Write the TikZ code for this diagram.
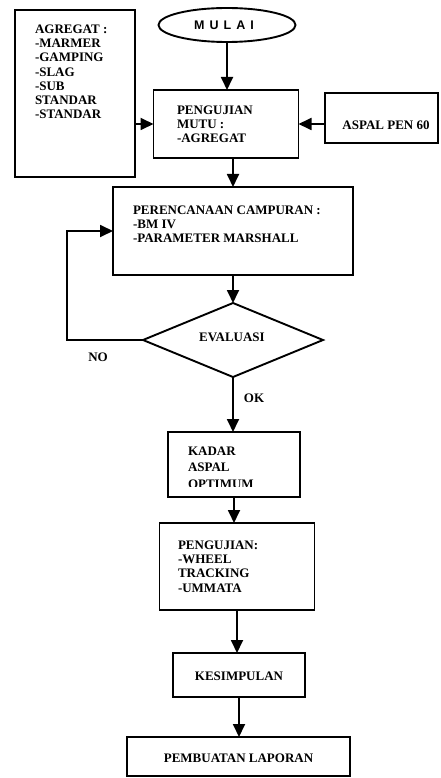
\documentclass[tikz,border=0pt]{standalone}
\usepackage{fontspec}
\setmainfont{Liberation Serif}
\newfontfamily\mulaifont{Liberation Sans}
\usetikzlibrary{shapes.geometric,arrows.meta}
\begin{document}
\begin{tikzpicture}[x=1pt,y=-1pt,
  every node/.style={inner sep=0pt,outer sep=0pt},
  box/.style={draw,line width=1.9pt,rectangle},
  txt/.style={font=\fontsize{13}{14.3}\selectfont\bfseries,align=left,anchor=north west},
  ctxt/.style={font=\fontsize{13}{14.3}\selectfont\bfseries},
  arr/.style={line width=1.8pt,-{Triangle[length=13pt,width=12pt]}}]
\useasboundingbox (0,0) rectangle (441,778);
% boxes
\node[box,minimum width=120pt,minimum height=167pt] (agr) at (75,93.5) {};
\node[draw,line width=1.9pt,ellipse,minimum width=137pt,minimum height=34pt] (mulai) at (227,25) {};
\node[font=\mulaifont\bfseries\fontsize{12.5}{13}\selectfont] (mulaitxt) at (224,25) {M\hspace{5pt}U\hspace{5pt}L\hspace{5pt}A\hspace{5pt}I};
\node[box,minimum width=145pt,minimum height=68pt] (mutu) at (226,124) {};
\node[box,minimum width=113pt,minimum height=50pt] (aspal) at (381.5,118) {};
\node[box,minimum width=240pt,minimum height=88pt] (rencana) at (233,231) {};
\node[draw,line width=1.9pt,diamond,minimum width=180pt,minimum height=74pt] (eval) at (233,340) {};
\node[box,minimum width=132pt,minimum height=65pt] (kadar) at (234,464.5) {};
\node[box,minimum width=155pt,minimum height=87pt] (uji) at (237,566.5) {};
\node[box,minimum width=132pt,minimum height=44pt] (kes) at (239,675) {};
\node[box,minimum width=223pt,minimum height=39pt] (lap) at (238.5,756.5) {};
% texts
\node[txt] (agrtxt) at (35,24.5) {AGREGAT :\\-MARMER\\-GAMPING\\-SLAG\\-SUB\\STANDAR\\-STANDAR};
\node[txt] (mututxt) at (177,105.5) {PENGUJIAN\\MUTU :\\-AGREGAT};
\node[ctxt] (aspaltxt) at (386,125) {ASPAL PEN 60};
\node[txt] (rencanatxt) at (133,205.5) {PERENCANAAN CAMPURAN :\\-BM IV\\-PARAMETER MARSHALL};
\node[ctxt] (evaltxt) at (232,337) {EVALUASI};
\begin{scope}
\clip (170,434) rectangle (298,486);
\node[txt,font=\fontsize{13}{16.8}\selectfont\bfseries] (kadartxt) at (188,446.5) {KADAR\\ASPAL\\OPTIMUM};
\end{scope}
\node[txt] (ujitxt) at (178,540.5) {PENGUJIAN:\\-WHEEL\\TRACKING\\-UMMATA};
\node[ctxt] (kestxt) at (239,676) {KESIMPULAN};
\node[ctxt] (laptxt) at (238.5,758) {PEMBUATAN LAPORAN};
\node[ctxt] (no) at (98,357) {NO};
\node[ctxt] (ok) at (254,398) {OK};
% connectors
\draw[arr] (mulai.south) -- (mulai.south |- mutu.north);
\draw[arr] (agr.east |- mutu.west) -- (mutu.west);
\draw[arr] (mutu.east -| aspal.west) -- (mutu.east);
\draw[arr] (rencana.north |- mutu.south) -- (rencana.north);
\draw[arr] (rencana.south) -- (eval.north);
\coordinate (loop) at (67,340);
\draw[arr] (eval.west) -- (loop) |- (rencana.west);
\draw[arr] (eval.south) -- (eval.south |- kadar.north);
\draw[arr] (kadar.south) -- (kadar.south |- uji.north);
\draw[arr] (uji.south) -- (uji.south |- kes.north);
\draw[arr] (kes.south) -- (kes.south |- lap.north);
\end{tikzpicture}
\end{document}
